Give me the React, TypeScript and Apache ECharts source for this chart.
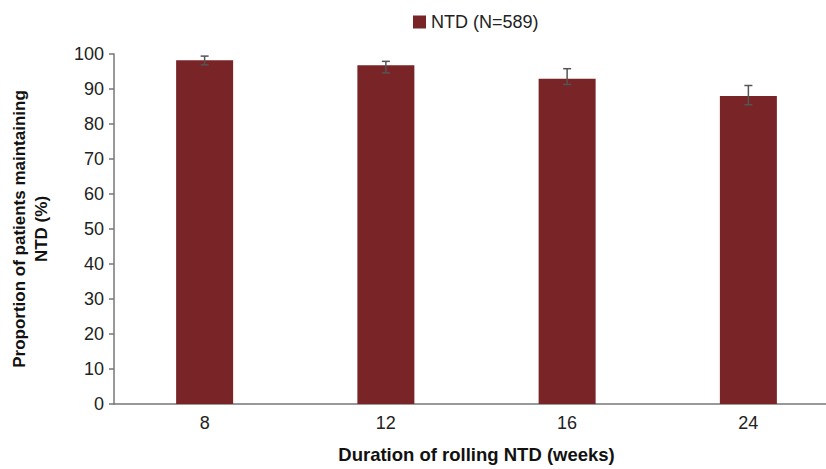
import React, { useEffect, useRef } from "react";
import * as echarts from "echarts";

const categories = ["8", "12", "16", "24"];
const values = [98.2, 96.8, 92.9, 88.0];
const errLow = [96.9, 94.6, 91.3, 85.5];
const errHigh = [99.4, 97.9, 95.8, 91.0];
const seriesName = "NTD (N=589)";
const yTitle = "Proportion of patients maintaining\nNTD (%)";
const xTitle = "Duration of rolling NTD (weeks)";

export default function App() {
  const ref = useRef<HTMLDivElement>(null);
  useEffect(() => {
    if (!ref.current) return;
    const chart = echarts.init(ref.current, undefined, { renderer: "svg" });
    const font = "'Liberation Sans', Arial, sans-serif";
    chart.setOption({
      animation: false,
      textStyle: { fontFamily: font },
      legend: {
        top: 8,
        left: 408,
        itemWidth: 13,
        itemHeight: 13,
        icon: "rect",
        itemGap: 6,
        textStyle: { fontSize: 18, color: "#222", fontFamily: font },
        data: [seriesName],
      },
      grid: { left: 111, top: 54, width: 728, height: 351, containLabel: false },
      xAxis: {
        type: "category",
        data: categories,
        axisLine: { lineStyle: { color: "#777", width: 1.5 } },
        axisTick: { show: false },
        axisLabel: { fontSize: 18, color: "#222", margin: 10, fontFamily: font },
        name: xTitle,
        nameLocation: "middle",
        nameGap: 41,
        nameTextStyle: { fontSize: 18.5, fontWeight: "bold", color: "#111", fontFamily: font },
      },
      yAxis: {
        type: "value",
        min: 0,
        max: 100,
        interval: 10,
        splitLine: { show: false },
        axisLine: { show: true, lineStyle: { color: "#777", width: 1.5 } },
        axisTick: { show: true, length: 5, lineStyle: { color: "#777", width: 1.5 } },
        axisLabel: { fontSize: 18, color: "#222", margin: 10, fontFamily: font },
        name: yTitle,
        nameLocation: "middle",
        nameGap: 62,
        nameRotate: 90,
        nameTextStyle: { fontSize: 17, fontWeight: "bold", color: "#111", lineHeight: 22, fontFamily: font },
      },
      series: [
        {
          name: seriesName,
          type: "bar",
          data: values,
          barWidth: 57,
          itemStyle: { color: "#792426" },
        },
        {
          type: "custom",
          name: "err",
          data: categories.map((_, i) => [i, errLow[i], errHigh[i]]),
          z: 10,
          renderItem: (params: any, api: any) => {
            const x = api.value(0);
            const lo = api.coord([x, api.value(1)]);
            const hi = api.coord([x, api.value(2)]);
            const cap = 4;
            const style = { stroke: "#555", lineWidth: 1.5 };
            return {
              type: "group",
              children: [
                { type: "line", shape: { x1: hi[0], y1: hi[1], x2: lo[0], y2: lo[1] }, style },
                { type: "line", shape: { x1: hi[0] - cap, y1: hi[1], x2: hi[0] + cap, y2: hi[1] }, style },
                { type: "line", shape: { x1: lo[0] - cap, y1: lo[1], x2: lo[0] + cap, y2: lo[1] }, style },
              ],
            };
          },
        },
      ],
    });
    return () => chart.dispose();
  }, []);
  return (
    <div style={{ position: "fixed", left: 0, top: 0, width: 826, height: 469, overflow: "hidden", background: "#fff" }}>
      <div ref={ref} style={{ width: 850, height: 469 }} />
    </div>
  );
}
